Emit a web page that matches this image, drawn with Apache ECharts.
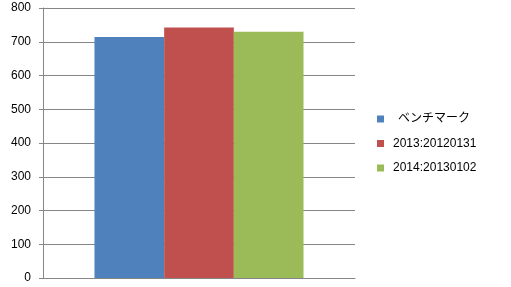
<!DOCTYPE html>
<html><head><meta charset="utf-8">
<script src="https://cdn.jsdelivr.net/npm/echarts@6/dist/echarts.min.js"></script>
<style>html,body{margin:0;padding:0;background:#fff}#c{width:511px;height:287px}</style>
</head><body><div id="c"></div>
<script>
const categories = [''];
const seriesNames = ['ベンチマーク', '2013:20120131', '2014:20130102'];
const benchmark = [714];
const s2013 = [742];
const s2014 = [730];
const yTicks = [0, 100, 200, 300, 400, 500, 600, 700, 800];
const colors = ['#4F81BD', '#C0504D', '#9BBB59'];
const font = '"Liberation Sans", Arial, "Noto Sans CJK JP", sans-serif';

const chart = echarts.init(document.getElementById('c'), null, {renderer: 'canvas'});
const values = [benchmark, s2013, s2014];
chart.setOption({
  animation: false,
  textStyle: {fontFamily: font},
  grid: {left: 43, top: 8, right: 156, bottom: 9, containLabel: false},
  legend: {
    orient: 'vertical', left: 377, top: 112, padding: 0,
    itemWidth: 7, itemHeight: 7, itemGap: 10.5,
    icon: 'rect',
    textStyle: {fontSize: 12, color: '#000', fontFamily: font, lineHeight: 14, padding: [0, 0, 0, 4]},
    data: seriesNames.map((n, i) => i === 0 ? {name: n, textStyle: {padding: [0, 0, 0, 9]}} : {name: n})
  },
  xAxis: {
    type: 'category', data: categories,
    axisLine: {show: true, lineStyle: {color: '#868686', width: 1}},
    axisTick: {show: false}, axisLabel: {show: false}
  },
  yAxis: {
    type: 'value', min: yTicks[0], max: yTicks[yTicks.length - 1], interval: 100,
    axisLine: {show: true, lineStyle: {color: '#868686', width: 1}},
    axisTick: {show: true, length: 4, lineStyle: {color: '#868686'}},
    axisLabel: {fontSize: 12, color: '#000', margin: 12, fontFamily: font},
    splitLine: {show: true, lineStyle: {color: '#868686', width: 1}}
  },
  series: seriesNames.map((n, i) => ({
    name: n, type: 'bar', data: values[i],
    barGap: '0%', barCategoryGap: '33%',
    itemStyle: {color: colors[i]}
  }))
});
</script></body></html>
